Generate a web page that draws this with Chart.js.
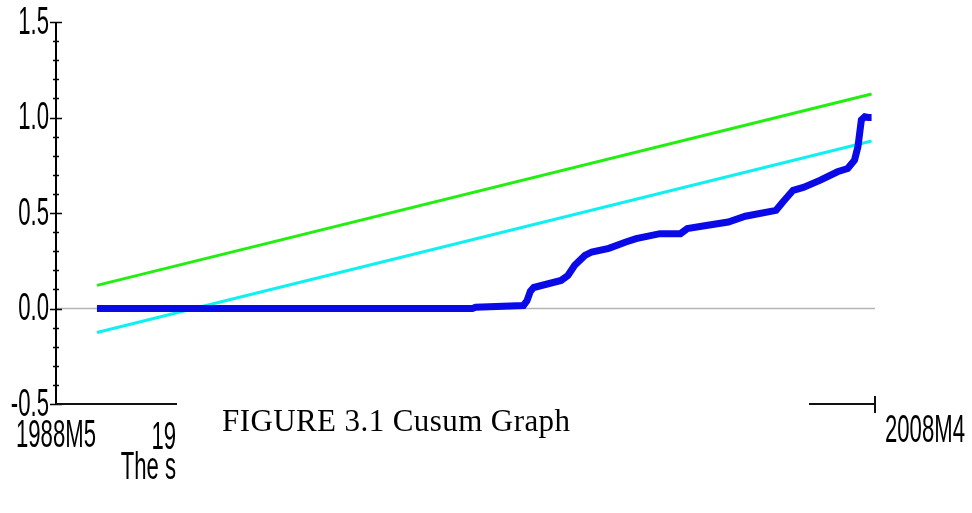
<!DOCTYPE html>
<html><head><meta charset="utf-8">
<script src="https://cdn.jsdelivr.net/npm/chart.js@4/dist/chart.umd.min.js"></script>
<style>html,body{margin:0;padding:0;background:#fff;overflow:hidden}#wrap{width:972px;height:513px;position:relative}</style>
</head><body><div id="wrap"><canvas id="c" width="972" height="513"></canvas></div>
<script>
const START_MONTH = '1988M5';
const END_MONTH = '2008M4';
const cusumMonths = ['1989M5','1992M1','1995M1','1998M7','1998M8','1999M10','1999M11','1999M12','2000M1','2000M9','2000M11','2001M1','2001M4','2001M6','2001M11','2002M4','2002M7','2003M2','2003M8','2003M10','2004M4','2004M10','2005M3','2005M12','2006M2','2006M5','2006M8','2007M1','2007M6','2007M9','2007M11','2007M12','2008M1','2008M2','2008M3','2008M4'];
const cusumValues = [0.0,0.0,0.0,0.0,0.007,0.016,0.04,0.09,0.11,0.147,0.173,0.226,0.278,0.296,0.315,0.348,0.366,0.392,0.392,0.418,0.436,0.453,0.483,0.514,0.558,0.619,0.634,0.672,0.716,0.733,0.777,0.847,0.987,1.004,1.0,1.0];
const boundMonths = ['1989M5','2008M4'];
const upperBound = [0.121, 1.123];
const lowerBound = [-0.126, 0.877];
const yTicks = [-0.5, 0, 0.5, 1.0, 1.5];
const yTickLabels = ['-0.5','0.0','0.5','1.0','1.5'];
const xTickLabels = ['1988M5','19','2008M4'];
const caption = 'FIGURE 3.1 Cusum Graph';
const footnote = 'The s';

function monthIndex(s){
  const a = s.split('M').map(Number), b = START_MONTH.split('M').map(Number);
  return (a[0]-b[0])*12 + (a[1]-b[1]);
}
const pts = (months, vals) => months.map((m,i)=>({x: monthIndex(m), y: vals[i]}));

const NARROW = '"Liberation Sans Narrow", "Liberation Sans", Arial, sans-serif';
const LBL = 39;

function narrowText(ctx, str, x, y, align, size, sx){
  ctx.save();
  ctx.font = size + 'px ' + NARROW;
  ctx.translate(x, y);
  ctx.scale(sx, 1);
  ctx.textAlign = align;
  ctx.textBaseline = 'middle';
  ctx.fillStyle = '#000';
  ctx.fillText(str, 0, 0);
  ctx.restore();
}

const decor = {
  id: 'decor',
  beforeDatasetsDraw(chart){
    const {ctx, chartArea: a, scales: {y}} = chart;
    const y0 = y.getPixelForValue(0);
    ctx.save();
    ctx.strokeStyle = '#b4b4b4';
    ctx.lineWidth = 1.5;
    ctx.beginPath(); ctx.moveTo(a.left, y0); ctx.lineTo(a.right, y0); ctx.stroke();
    ctx.restore();
  },
  afterDraw(chart){
    const {ctx, chartArea: a, scales: {x, y}} = chart;
    ctx.save();
    ctx.strokeStyle = '#000'; ctx.lineWidth = 2;
    ctx.beginPath(); ctx.moveTo(a.left, a.top); ctx.lineTo(a.left, a.bottom); ctx.stroke();
    ctx.lineWidth = 1.5;
    for (let v = -5; v <= 15; v++) {
      const py = Math.round(y.getPixelForValue(v/10)) + 0.5;
      const major = v % 5 === 0;
      const w = major ? 6 : 3;
      ctx.beginPath(); ctx.moveTo(a.left - w, py); ctx.lineTo(a.left + w, py); ctx.stroke();
    }
    ctx.strokeStyle = '#111'; ctx.lineWidth = 2;
    ctx.beginPath(); ctx.moveTo(a.left, a.bottom); ctx.lineTo(a.right, a.bottom); ctx.stroke();
    ctx.beginPath(); ctx.moveTo(a.right, a.bottom - 8); ctx.lineTo(a.right, a.bottom + 9); ctx.stroke();

    ctx.font = LBL + 'px ' + NARROW;
    const sx = 80 / ctx.measureText('1988M5').width;
    yTicks.forEach((v,i)=>{
      narrowText(ctx, yTickLabels[i], a.left - 7, y.getPixelForValue(v) + 1, 'right', LBL, sx);
    });
    narrowText(ctx, xTickLabels[0], x.getPixelForValue(0), a.bottom + 32, 'center', LBL, sx);
    narrowText(ctx, xTickLabels[2], a.right + 10, a.bottom + 27, 'left', LBL, sx);
    narrowText(ctx, xTickLabels[1], 176, a.bottom + 34, 'right', LBL, sx);
    narrowText(ctx, footnote, 176, a.bottom + 64, 'right', LBL, sx);

    ctx.fillStyle = '#fff';
    ctx.fillRect(177, a.bottom - 16, 632, 120);
    ctx.fillStyle = '#000';
    ctx.font = '31px "Liberation Serif", "Times New Roman", serif';
    const w0 = ctx.measureText(caption).width;
    const ls = Math.max(0, (348 - w0) / (caption.length - 1));
    ctx.letterSpacing = ls + 'px';
    ctx.textAlign = 'left'; ctx.textBaseline = 'alphabetic';
    ctx.fillText(caption, 222, a.bottom + 27);
    ctx.restore();
  }
};

new Chart(document.getElementById('c'), {
  type: 'line',
  data: {
    datasets: [
      { label: 'CUSUM of Squares', data: pts(cusumMonths, cusumValues), borderColor: '#0a0ae8', borderWidth: 7, borderCapStyle: 'butt', borderJoinStyle: 'miter', pointRadius: 0, tension: 0 },
      { label: 'Upper 5%', data: pts(boundMonths, upperBound), borderColor: '#22ee10', borderWidth: 3, pointRadius: 0 },
      { label: 'Lower 5%', data: pts(boundMonths, lowerBound), borderColor: '#10f0f0', borderWidth: 3, pointRadius: 0 }
    ]
  },
  options: {
    responsive: false,
    animation: false,
    events: [],
    layout: { padding: { left: 56, right: 97, top: 22, bottom: 109 } },
    plugins: { legend: { display: false }, tooltip: { enabled: false } },
    scales: {
      x: { type: 'linear', min: 0, max: monthIndex(END_MONTH) + 1, display: false },
      y: { min: -0.5, max: 1.5, display: false }
    }
  },
  plugins: [decor]
});
</script>
</body></html>
